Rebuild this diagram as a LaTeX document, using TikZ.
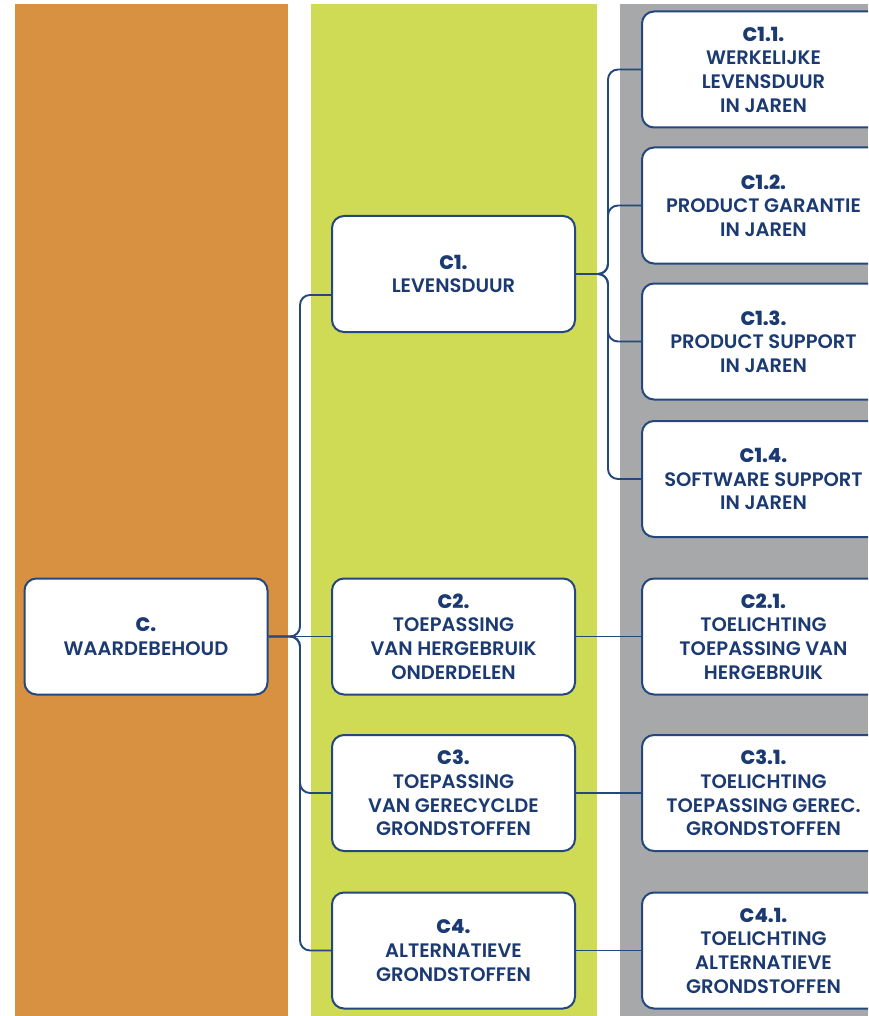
\documentclass[tikz,border=0pt]{standalone}
\usepackage{fontspec}
\setmainfont{Poppins}[UprightFont=* SemiBold, BoldFont=* ExtraBold]
\definecolor{orangecol}{RGB}{216,145,64}
\definecolor{greencol}{RGB}{207,219,85}
\definecolor{graycol}{RGB}{167,168,170}
\definecolor{linecol}{RGB}{36,72,126}
\definecolor{textcol}{RGB}{28,58,114}
\begin{document}
\begin{tikzpicture}[x=1pt,y=-1pt,
  box/.style={draw=linecol, line width=2pt, fill=white, rounded corners=12pt,
    minimum width=243pt, minimum height=116pt, inner sep=0pt, align=center,
    text=textcol, font=\fontsize{19.5}{23.7}\selectfont},
  conn/.style={draw=linecol, line width=1.9pt, rounded corners=10pt}]
\useasboundingbox (0,0) rectangle (868,1016);
\clip (0,0) rectangle (868,1016);
\fill[orangecol] (15,4) rectangle (288,1016);
\fill[greencol] (311,4) rectangle (597,1016);
\fill[graycol] (620,4) rectangle (868,1016);

\node[box] (C) at (146,636.5) {{\bfseries C.}\\WAARDEBEHOUD};
\node[box] (C1) at (453.5,274) {{\bfseries C1.}\\LEVENSDUUR};
\node[box] (C2) at (453.5,636.5) {{\bfseries C2.}\\TOEPASSING\\VAN HERGEBRUIK\\ONDERDELEN};
\node[box] (C3) at (453.5,793) {{\bfseries C3.}\\TOEPASSING\\VAN GERECYCLDE\\GRONDSTOFFEN};
\node[box] (C4) at (453.5,950.5) {{\bfseries C4.}\\ALTERNATIEVE\\GRONDSTOFFEN};

\node[box] (C11) at (763.5,69.5) {{\bfseries C1.1.}\\WERKELIJKE\\LEVENSDUUR\\IN JAREN};
\node[box] (C12) at (763.5,205.5) {{\bfseries C1.2.}\\PRODUCT GARANTIE\\IN JAREN};
\node[box] (C13) at (763.5,341.5) {{\bfseries C1.3.}\\PRODUCT SUPPORT\\IN JAREN};
\node[box] (C14) at (763.5,479) {{\bfseries C1.4.}\\SOFTWARE SUPPORT\\IN JAREN};
\node[box] (C21) at (763.5,636.5) {{\bfseries C2.1.}\\TOELICHTING\\TOEPASSING VAN\\HERGEBRUIK};
\node[box] (C31) at (763.5,793) {{\bfseries C3.1.}\\TOELICHTING\\TOEPASSING GEREC.\\GRONDSTOFFEN};
\node[box] (C41) at (763.5,950.5) {{\bfseries C4.1.}\\TOELICHTING\\ALTERNATIEVE\\GRONDSTOFFEN};

\coordinate (j1) at (300,0);
\coordinate (j2) at (608,0);
\coordinate (C1in) at ([yshift=-21pt]C1.west);

\draw[conn] (C.east) -- (C2.west);
\draw[conn] (C.east) -- (C.east -| j1) -- (j1 |- C1in) -- (C1in);
\draw[conn] (C.east) -- (C.east -| j1) -- (j1 |- C3.west) -- (C3.west);
\draw[conn] (C.east) -- (C.east -| j1) -- (j1 |- C4.west) -- (C4.west);

\draw[conn] (C1.east) -- (C1.east -| j2) -- (j2 |- C11.west) -- (C11.west);
\draw[conn] (C1.east) -- (C1.east -| j2) -- (j2 |- C12.west) -- (C12.west);
\draw[conn] (C1.east) -- (C1.east -| j2) -- (j2 |- C13.west) -- (C13.west);
\draw[conn] (C1.east) -- (C1.east -| j2) -- (j2 |- C14.west) -- (C14.west);

\draw[conn] (C2.east) -- (C21.west);
\draw[conn] (C3.east) -- (C31.west);
\draw[conn] (C4.east) -- (C41.west);
\end{tikzpicture}
\end{document}
